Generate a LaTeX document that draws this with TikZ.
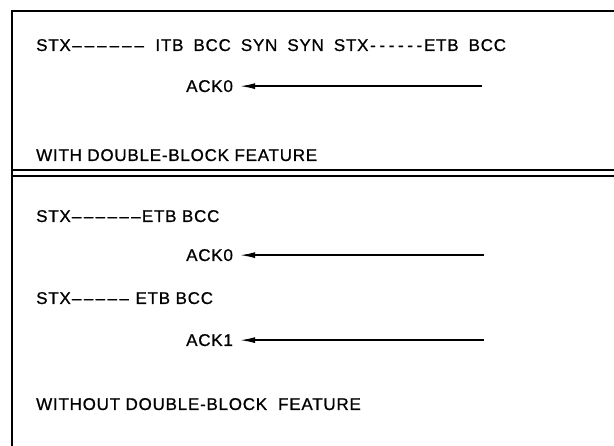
\documentclass[tikz,border=0pt]{standalone}
\usepackage{fontspec}
\setmainfont[LetterSpace=4.5,FakeBold=0.8]{Liberation Sans}
\usetikzlibrary{arrows.meta}

\tikzset{
  lbl/.style={anchor=base west, inner sep=0pt, font=\fontsize{17}{20}\selectfont},
  ackarr/.style={-{Latex[length=15pt,width=6pt]}, line width=1.4pt, shorten >=7pt},
  frame/.style={line width=1.6pt},
}
\newcommand{\dsh}{\hspace{1.5pt}--\hspace{1.5pt}}
\newcommand{\ndsh}{\hspace{1.2pt}--\hspace{1.2pt}}
\newcommand{\hdsh}{\hspace{1.8pt}-\hspace{1.8pt}}
\newcommand{\wsp}{\hspace{10pt}}

\begin{document}
\begin{tikzpicture}[x=1pt,y=-1pt]
  \useasboundingbox (0,0) rectangle (614,446);
  % frame and double rule
  \draw[frame] (614,11) -- (12,11) -- (12,446);
  \draw[frame] (12,170) -- (614,170);
  \draw[frame] (12,176) -- (614,176);
  % with double-block
  \node[lbl] (seq1) at (36,51) {STX\dsh\dsh\dsh\dsh\dsh\dsh\wsp ITB\wsp BCC\wsp SYN\wsp SYN\wsp STX\hdsh\hdsh\hdsh\hdsh\hdsh\hdsh ETB\wsp BCC};
  \node[lbl] (ack0a) at (186,92) {ACK0};
  \coordinate (e0a) at (ack0a.east -| 482,0);
  \draw[ackarr] (e0a) -- (ack0a.east);
  \node[lbl] (with) at (36,161) {WITH DOUBLE-BLOCK FEATURE};
  % without double-block
  \node[lbl] (seq2) at (36,222) {STX\ndsh\ndsh\ndsh\ndsh\ndsh\ndsh ETB BCC};
  \node[lbl] (ack0b) at (186,261) {ACK0};
  \coordinate (e0b) at (ack0b.east -| 484,0);
  \draw[ackarr] (e0b) -- (ack0b.east);
  \node[lbl] (seq3) at (36,304) {STX\ndsh\ndsh\ndsh\ndsh\ndsh\ ETB BCC};
  \node[lbl] (ack1) at (186,346) {ACK1};
  \coordinate (e1) at (ack1.east -| 484,0);
  \draw[ackarr] (e1) -- (ack1.east);
  \node[lbl] (without) at (36,410) {WITHOUT DOUBLE-BLOCK\ \ FEATURE};
\end{tikzpicture}
\end{document}
